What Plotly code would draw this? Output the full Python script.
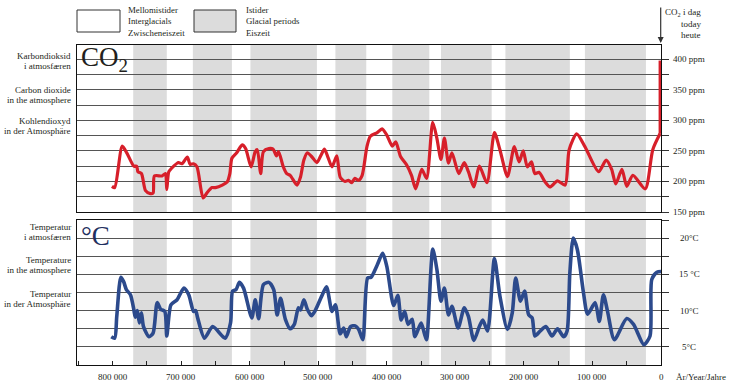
import plotly.graph_objects as go

# ---------------- data ----------------
co2_years_k = [801, 797, 786, 779, 769, 765, 763, 758, 752, 745, 741, 739, 728, 723, 721, 718, 711, 704, 699, 691,
               687, 682, 677, 668, 662, 655, 650, 640, 633, 629, 626, 619, 611, 606, 598, 592, 589, 584, 580, 572,
               566, 561, 558, 551, 546, 541, 531, 526, 521, 516, 509, 502, 496, 491, 486, 480, 473, 468, 461, 456,
               451, 447, 441, 436, 429, 424, 414, 407, 400, 392, 387, 380, 371, 364, 358, 349, 342, 333, 327, 321,
               316, 310, 305, 295, 287, 281, 273, 265, 254, 243, 235, 224, 214, 207, 201, 195, 189, 184, 178, 169,
               162, 151, 140, 134, 123, 111, 91, 80, 72, 66, 57, 50, 41, 23, 12, 1.5]
co2_ppm = [192, 190, 258, 246, 225, 225, 216, 213, 185, 180, 181, 209, 209, 213, 187, 216, 225, 231, 229, 240,
           228, 229, 224, 173, 182, 190, 190, 194, 199, 213, 238, 247, 260, 254, 224, 249, 252, 213, 249, 254,
           253, 242, 249, 224, 213, 210, 194, 207, 235, 247, 240, 231, 243, 253, 240, 224, 242, 207, 200, 202,
           198, 205, 202, 210, 257, 274, 280, 286, 276, 258, 265, 241, 227, 210, 188, 220, 205, 297, 271, 236,
           271, 230, 247, 213, 231, 216, 191, 225, 198, 280, 252, 208, 257, 232, 250, 224, 232, 213, 215, 199,
           191, 201, 194, 252, 278, 257, 216, 235, 220, 196, 220, 192, 210, 188, 252, 278]
co2_today_years_k = [1.2, 1.2]
co2_today_ppm = [278, 398]

temp_years_k = [802, 797, 794, 788, 784, 780, 774, 769, 767, 764, 761, 758, 755, 747, 741, 735, 730, 724, 721, 715,
                706, 696, 689, 682, 679, 676, 666, 654, 636, 628, 625, 620, 615, 609, 597, 592, 587, 580, 572, 565,
                560, 555, 548, 541, 535, 529, 526, 521, 516, 510, 504, 495, 488, 480, 475, 468, 463, 459, 453, 446,
                441, 435, 428, 423, 414, 406, 400, 390, 384, 379, 374, 369, 363, 359, 350, 345, 342, 333, 327, 321,
                316, 310, 305, 296, 287, 281, 273, 265, 260, 253, 243, 235, 224, 217, 212, 205, 199, 193, 188, 184,
                176, 168, 159, 151, 142, 137, 133, 128, 122, 113, 107, 96, 90, 84, 78, 68, 50, 40, 25, 16,
                13.5, 6, 0]
temp_c = [6.4, 6.2, 9.2, 14.6, 14.0, 12.9, 12.2, 10.1, 9.1, 10.0, 8.3, 9.7, 7.8, 6.4, 6.9, 11.1, 10.2, 9.9, 6.5, 10.8,
          11.5, 13.1, 12.2, 9.9, 10.0, 9.0, 6.2, 7.8, 6.2, 8.3, 12.7, 12.9, 13.9, 13.1, 9.0, 11.5, 8.9, 13.6, 13.9, 12.9,
          9.4, 11.7, 8.8, 7.5, 8.1, 10.4, 10.1, 11.5, 10.2, 9.3, 10.1, 12.0, 13.3, 9.9, 10.8, 6.8, 7.6, 6.4, 7.8, 7.9,
          7.4, 6.0, 14.5, 14.6, 16.3, 17.9, 16.1, 10.7, 12.1, 8.7, 9.9, 8.1, 8.8, 6.4, 8.3, 6.8, 6.0, 18.5, 15.7, 11.3,
          13.1, 9.4, 10.6, 7.6, 10.4, 9.2, 5.9, 7.8, 8.7, 7.2, 17.2, 12.0, 7.4, 9.7, 14.5, 11.3, 12.7, 9.4, 9.0, 6.5,
          7.2, 7.8, 6.5, 7.5, 6.4, 7.2, 15.2, 20.0, 18.4, 12.4, 9.5, 11.1, 8.5, 12.2, 9.9, 6.0, 8.9, 8.1, 5.3, 6.5,
          14.3, 15.3, 15.4]

glacial_start_k = [770, 683, 599, 475, 392, 321, 227, 111]
glacial_end_k = [721, 626, 502, 430, 338, 247, 133, 22]

x_tick_years = [800000, 700000, 600000, 500000, 400000, 300000, 200000, 100000, 0]
x_tick_labels = ["800 000", "700 000", "600 000", "500 000", "400 000", "300 000", "200 000", "100 000", "0"]
ppm_ticks = [150, 175, 200, 225, 250, 275, 300, 325, 350, 375, 400]
ppm_labels = {150: "150 ppm", 200: "200 ppm", 250: "250 ppm", 300: "300 ppm", 350: "350 ppm", 400: "400 ppm"}
temp_ticks = [5, 7.5, 10, 12.5, 15, 17.5, 20, 22.5]
temp_labels = {5: "5°C", 10: "10°C", 15: "15 °C", 20: "20°C"}

# ---------------- layout helpers ----------------
W, H = 729, 386
L, R, T, B = 77, 661, 45, 365
FONT = "Liberation Serif"
TXT = "#231f20"
RED = "#d71f2a"
BLUE = "#2c4a8c"
GRAY = "#dcdcdc"
GRID = "#555555"
SMALL = 9


def px(x):
    return (x - L) / (R - L)


def py(y):
    return (B - y) / (B - T)


fig = go.Figure()

fig.add_trace(go.Scatter(x=[v * 1000 for v in co2_years_k], y=co2_ppm, mode="lines",
                         line=dict(color=RED, width=3.2, shape="spline", smoothing=0.7),
                         xaxis="x2", yaxis="y2", hoverinfo="skip", showlegend=False))
fig.add_trace(go.Scatter(x=[v * 1000 for v in co2_today_years_k], y=co2_today_ppm, mode="lines",
                         line=dict(color=RED, width=3.2), xaxis="x2", yaxis="y2",
                         hoverinfo="skip", showlegend=False))
fig.add_trace(go.Scatter(x=[v * 1000 for v in temp_years_k], y=temp_c, mode="lines",
                         line=dict(color=BLUE, width=3.6, shape="spline", smoothing=0.7),
                         xaxis="x", yaxis="y", hoverinfo="skip", showlegend=False))

shapes = []
for s, e in zip(glacial_start_k, glacial_end_k):
    for xr, yr in (("x", "y domain"), ("x2", "y2 domain")):
        shapes.append(dict(type="rect", xref=xr, yref=yr, x0=s * 1000, x1=e * 1000, y0=0, y1=1,
                           fillcolor=GRAY, line=dict(width=0), layer="below"))

# legend boxes
shapes.append(dict(type="rect", xref="paper", yref="paper", x0=px(77), x1=px(120), y0=py(32), y1=py(10),
                   fillcolor="white", line=dict(color="#333", width=1)))
shapes.append(dict(type="rect", xref="paper", yref="paper", x0=px(194), x1=px(236), y0=py(32), y1=py(10),
                   fillcolor=GRAY, line=dict(color="#333", width=1)))

ann = []


def text(s, x, y, size=SMALL, xanchor="left", color=TXT):
    ann.append(dict(text=s, x=px(x), y=py(y), xref="paper", yref="paper", showarrow=False,
                    xanchor=xanchor, yanchor="middle", font=dict(family=FONT, size=size, color=color)))


# legend text
for i, s in enumerate(["Mellomistider", "Interglacials", "Zwischeneiszeit"]):
    text(s, 126, 10 + i * 11.3, size=8.8)
for i, s in enumerate(["Istider", "Glacial periods", "Eiszeit"]):
    text(s, 244, 10 + i * 11.3, size=8.8)

# left labels
left = [("Karbondioksid", 55.5), ("i atmosfæren", 65.5), ("Carbon dioxide", 90), ("in the atmosphere", 100),
        ("Kohlendioxyd", 121), ("in der Atmosphäre", 131),
        ("Temperatur", 227), ("i atmosfæren", 237), ("Temperature", 260), ("in the atmosphere", 270),
        ("Temperatur", 294), ("in der Atmosphäre", 304)]
for s, y in left:
    text(s, 73, y, xanchor="right")

# big labels
text("CO<sub>2</sub>", 79, 59, size=27)
text("°C", 79, 236, size=27, color="#1f3060")

# top-right note
text("CO<sub>2</sub> i dag", 703, 12.5, xanchor="right")
text("today", 703, 23.5, xanchor="right")
text("heute", 703, 34.5, xanchor="right")
ann.append(dict(x=px(660.7), y=py(43), xref="paper", yref="paper", ax=0, ay=-37, axref="pixel", ayref="pixel",
                showarrow=True, arrowhead=2, arrowsize=1, arrowwidth=1.2, arrowcolor="#333", text=""))

# right tick labels
for v, s in ppm_labels.items():
    ann.append(dict(text=s, x=px(671), y=v, xref="paper", yref="y2", showarrow=False, xanchor="left",
                    yanchor="middle", font=dict(family=FONT, size=SMALL, color=TXT)))
for v, s in temp_labels.items():
    ann.append(dict(text=s, x=px(689), y=v, xref="paper", yref="y", showarrow=False, xanchor="center",
                    yanchor="middle", font=dict(family=FONT, size=SMALL, color=TXT)))

# x tick labels
for v, s in zip(x_tick_years, x_tick_labels):
    ann.append(dict(text=s, x=v, y=py(377), xref="x", yref="paper", showarrow=False, xanchor="center",
                    yanchor="middle", font=dict(family=FONT, size=SMALL, color=TXT)))

# x axis title
text("År/Year/Jahre", 674, 377, size=9)

fig.update_layout(
    width=W, height=H,
    margin=dict(l=L, r=W - R, t=T, b=H - B),
    paper_bgcolor="white", plot_bgcolor="white",
    font=dict(family=FONT, size=SMALL, color=TXT),
    showlegend=False,
    shapes=shapes, annotations=ann,
    xaxis=dict(domain=[0, 1], anchor="y", range=[852000, 0],
               tickvals=list(range(0, 850001, 50000)), showticklabels=False,
               ticks="inside", ticklen=4, tickcolor="#222", showline=True, linecolor="#111", linewidth=1.2,
               mirror=True, showgrid=False, zeroline=False, automargin=False),
    xaxis2=dict(domain=[0, 1], anchor="y2", matches="x", showticklabels=False, ticks="",
                showline=True, linecolor="#111", linewidth=1.2, mirror=True, showgrid=False, zeroline=False,
                automargin=False),
    yaxis=dict(domain=[0, 145 / 320], anchor="x", side="right", range=[2.5, 22.5],
               tickvals=temp_ticks, showticklabels=False, ticks="outside", ticklen=7, tickcolor="#333",
               showgrid=True, gridcolor=GRID, gridwidth=1, showline=True, linecolor="#111", linewidth=1.2,
               mirror=True, zeroline=False, automargin=False),
    yaxis2=dict(domain=[(B - 212) / 320, 1], anchor="x2", side="right", range=[150, 423.5],
                tickvals=ppm_ticks, showticklabels=False, ticks="outside", ticklen=7, tickcolor="#333",
                showgrid=True, gridcolor=GRID, gridwidth=1, showline=True, linecolor="#111", linewidth=1.2,
                mirror=True, zeroline=False, automargin=False),
)

fig.write_html("out.html", config={"displayModeBar": False},
               post_script="document.body.style.margin='0';document.body.style.overflow='hidden';")
